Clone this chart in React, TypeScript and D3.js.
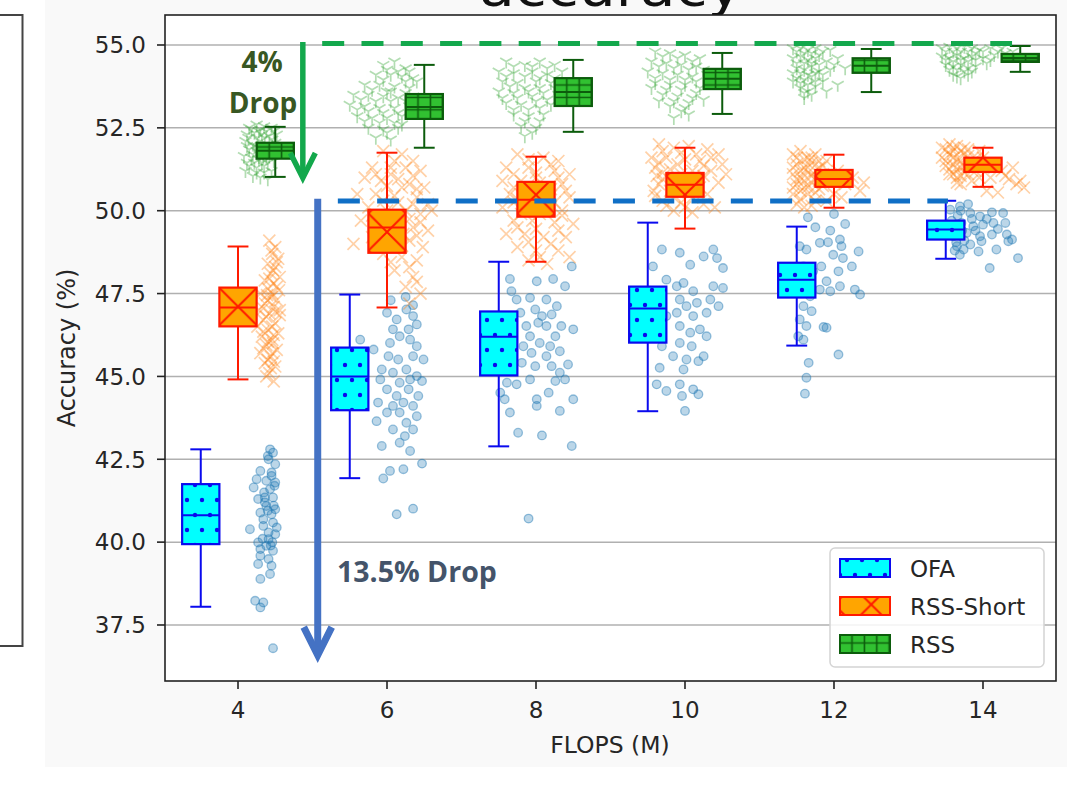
import React from 'react';
import { scaleLinear } from 'd3';

const W = 1091;
const H = 791;

// FLOPs levels (M) and axis ticks
const flops = [4, 6, 8, 10, 12, 14];
const xTicks = [4, 6, 8, 10, 12, 14];
const yTicks = [37.5, 40.0, 42.5, 45.0, 47.5, 50.0, 52.5, 55.0];

// box statistics per FLOPs level
const ofaLow = [38.05, 41.93, 42.89, 43.95, 45.93, 48.55];
const ofaQ1 = [39.94, 43.98, 45.03, 46.02, 47.38, 49.13];
const ofaMed = [40.81, 45.0, 46.2, 47.05, 47.92, 49.43];
const ofaQ3 = [41.75, 45.87, 46.96, 47.71, 48.43, 49.7];
const ofaHigh = [42.8, 47.47, 48.46, 49.64, 49.52, 50.3];

const shortLow = [44.91, 47.08, 48.46, 49.46, 50.09, 50.72];
const shortQ1 = [46.51, 48.73, 49.82, 50.42, 50.72, 51.17];
const shortMed = [47.08, 49.49, 50.33, 50.78, 50.96, 51.39];
const shortQ3 = [47.68, 50.03, 50.87, 51.14, 51.23, 51.6];
const shortHigh = [48.92, 51.75, 51.63, 51.9, 51.69, 51.9];

const rssLow = [51.02, 51.9, 52.38, 52.92, 53.58, 54.19];
const rssQ1 = [51.57, 52.77, 53.16, 53.67, 54.16, 54.49];
const rssMed = [51.81, 53.13, 53.58, 53.98, 54.37, 54.61];
const rssQ3 = [52.05, 53.52, 54.0, 54.28, 54.6, 54.73];
const rssHigh = [52.53, 54.4, 54.55, 54.76, 54.88, 54.97];

// sampled subnets: [flops, accuracy]
const ofaPts = [
  [4.43,42.80],[4.47,42.70],[4.41,42.50],[4.50,42.35],[4.30,42.15],[4.45,42.10],[4.25,41.90],[4.38,41.85],[4.50,41.80],[4.21,41.65],
  [4.43,41.60],[4.47,41.35],[4.27,41.30],[4.38,41.09],[4.50,40.99],[4.30,40.89],[4.45,40.84],[4.47,40.59],[4.16,40.39],[4.34,40.49],
  [4.41,40.29],[4.50,40.24],[4.27,39.99],[4.38,39.89],[4.47,39.74],[4.30,39.59],[4.41,39.49],[4.27,39.34],[4.43,39.04],[4.30,38.89],
  [4.23,38.23],[4.34,38.18],[4.30,38.03],[4.47,36.80],[4.34,40.69],[4.52,40.44],[4.41,40.09],[4.30,39.79],[4.45,39.29],[4.36,41.35],
  [4.40,42.60],[4.45,42.00],[4.35,41.50],[4.48,41.10],[4.40,40.95],[4.46,40.00],[4.33,40.10],[4.44,39.90],[4.36,41.20],[4.49,41.70],
  [6.00,46.92],[6.13,46.72],[6.26,47.02],[6.35,46.82],[6.08,46.42],[6.17,46.21],[6.31,46.11],[6.40,45.91],[6.04,46.01],[5.64,46.11],
  [5.82,45.81],[6.02,45.61],[6.15,45.51],[6.35,45.61],[6.49,45.51],[5.93,45.21],[6.08,45.11],[6.26,45.21],[6.40,45.01],[5.91,44.91],
  [6.17,44.81],[6.31,44.91],[6.47,44.86],[6.00,44.61],[6.13,44.41],[6.29,44.61],[6.42,44.41],[5.88,44.21],[6.08,44.11],[6.22,44.21],
  [6.35,44.11],[6.00,43.91],[6.17,43.91],[6.40,43.80],[5.86,43.65],[6.26,43.60],[6.08,43.40],[6.35,43.40],[6.24,43.20],[6.17,43.00],
  [6.31,42.75],[5.93,42.90],[6.04,42.15],[5.95,41.92],[6.22,42.20],[6.47,42.37],[6.13,40.84],[6.35,41.01],[6.40,46.57],[6.29,46.42],
  [6.05,47.30],[6.25,47.40],[6.35,47.15],
  [7.65,47.94],[7.67,47.57],[8.01,47.87],[8.23,47.94],[8.39,47.72],[7.74,47.32],[7.92,47.37],[8.14,47.32],[8.28,47.12],[7.79,46.92],
  [7.99,47.02],[8.08,46.82],[8.21,46.87],[8.34,46.52],[8.50,46.42],[7.87,46.52],[8.03,46.62],[8.14,46.52],[7.92,46.21],[8.26,46.21],
  [7.83,45.91],[8.05,46.01],[8.19,45.91],[8.32,45.76],[7.94,45.71],[8.14,45.61],[7.81,45.41],[7.99,45.31],[8.21,45.31],[8.43,45.36],
  [8.32,45.11],[7.61,44.81],[7.74,44.76],[7.92,44.91],[8.26,44.86],[8.39,44.91],[7.58,44.31],[8.01,44.31],[8.50,44.31],[8.17,44.51],
  [7.65,43.91],[8.01,44.11],[8.32,43.96],[7.76,43.30],[8.08,43.22],[8.48,42.90],[7.90,40.71],[8.48,48.32],[7.52,44.51],
  [9.57,48.32],[9.69,48.83],[9.93,48.73],[10.07,48.37],[10.25,48.62],[10.43,48.57],[10.51,48.27],[9.75,47.92],[9.89,47.72],[9.98,47.82],
  [10.11,47.57],[10.38,47.72],[10.51,47.67],[9.66,47.32],[9.93,47.32],[10.02,47.12],[10.16,47.22],[10.34,47.32],[10.45,47.12],[9.75,46.82],
  [9.89,46.92],[10.11,46.82],[10.29,46.92],[9.93,46.52],[10.07,46.32],[10.20,46.42],[10.29,46.21],[9.69,45.91],[9.93,46.01],[10.09,45.91],
  [10.25,45.61],[9.84,45.61],[10.02,45.51],[10.18,45.46],[9.66,45.26],[9.98,45.21],[9.62,44.76],[9.75,44.56],[9.93,44.76],[10.11,44.61],
  [10.18,44.46],[9.96,44.41],[10.00,43.96],[10.38,48.83],
  [11.54,48.93],[11.63,48.83],[11.81,49.03],[11.92,49.05],[12.08,49.13],[12.10,48.93],[12.33,48.77],[11.99,48.67],[12.12,48.57],[12.24,48.32],
  [11.59,48.32],[11.72,48.17],[11.83,48.32],[12.06,48.17],[11.90,47.87],[12.08,47.72],[12.28,47.62],[12.35,47.47],[11.54,47.52],[11.68,47.42],
  [11.81,47.62],[11.95,47.57],[11.59,47.12],[11.70,46.97],[11.54,46.72],[11.63,46.52],[11.86,46.49],[11.90,46.47],[11.59,46.11],[12.06,45.66],
  [11.66,45.41],[11.63,44.96],[11.61,44.48],[11.52,46.21],[11.57,47.82],[11.75,49.50],[11.95,49.40],[12.15,49.60],[11.65,49.80],[12.00,49.90],
  [13.56,50.03],[13.69,50.13],[13.83,49.93],[13.96,49.83],[14.12,49.95],[14.27,49.93],[13.71,49.63],[13.87,49.53],[14.00,49.58],[14.14,49.63],
  [14.30,49.63],[13.60,49.23],[13.78,49.33],[13.96,49.23],[14.12,49.28],[14.32,49.28],[14.39,49.13],[13.65,48.93],[13.83,48.98],[13.98,49.08],
  [14.18,48.83],[14.34,49.08],[13.69,48.67],[14.09,48.27],[14.47,48.57],[13.94,48.77],[13.74,48.83],[13.62,49.50],[13.75,49.10],[13.90,49.40],
  [14.05,49.75],[13.66,49.85],[13.80,50.20],[14.20,49.45],[13.58,49.70],[13.72,49.40],[13.64,49.05],[13.85,49.75],[13.70,50.00],[13.62,48.80],
];

const shortPts = [
  [4.42,49.1],[4.50,48.9],[4.46,48.7],[4.54,48.55],[4.40,48.4],[4.50,48.3],[4.44,48.1],[4.56,48.0],[4.36,47.9],[4.48,47.8],
  [4.40,47.65],[4.55,47.6],[4.30,47.5],[4.45,47.4],[4.52,47.3],[4.36,47.2],[4.48,47.1],[4.28,47.0],[4.42,46.9],[4.56,46.85],
  [4.34,46.7],[4.50,46.6],[4.26,46.5],[4.40,46.4],[4.54,46.3],[4.32,46.2],[4.46,46.1],[4.38,45.95],[4.52,45.8],[4.30,45.7],
  [4.44,45.6],[4.36,45.4],[4.50,45.3],[4.42,45.1],[4.48,44.85],[4.56,47.0],[4.47,46.0],[4.39,47.45],
  [4.45,48.8],[4.52,48.45],[4.47,48.2],[4.42,47.95],[4.52,47.7],[4.46,47.5],[4.40,47.3],[4.34,47.05],[4.50,46.95],[4.38,46.8],
  [4.46,46.5],[4.34,46.35],[4.48,46.25],[4.40,46.05],[4.34,45.85],[4.46,45.7],[4.40,45.5],[4.48,45.45],[4.44,45.25],[4.38,45.0],
  [5.95,51.8],[6.20,51.7],[6.35,51.5],[5.80,51.3],[6.05,51.3],[6.45,51.2],[5.70,51.0],[5.92,50.9],[6.15,50.95],[6.30,50.8],
  [6.50,50.7],[5.60,50.5],[5.85,50.5],[6.10,50.45],[6.40,50.4],[6.55,50.2],[5.75,50.1],[6.00,50.0],[6.25,50.0],[6.45,49.9],
  [5.65,49.7],[5.90,49.6],[6.15,49.6],[6.35,49.5],[6.55,49.4],[5.80,49.2],[6.05,49.1],[6.30,49.1],[6.48,48.9],[5.95,48.7],
  [6.20,48.6],[6.40,48.5],[6.10,48.2],[6.35,48.0],[6.25,47.7],[6.45,47.5],[6.30,47.2],[5.55,49.0],[6.60,50.0],[6.22,49.3],
  [6.10,51.5],[6.25,51.3],[5.85,51.1],[6.05,51.1],[6.35,51.05],[6.00,50.75],[6.20,50.7],[6.40,50.65],[5.95,50.3],[6.15,50.25],
  [6.35,50.2],[5.80,49.85],[6.05,49.8],[6.30,49.75],[6.45,49.65],[5.95,49.35],[6.15,49.35],[6.40,49.25],[6.20,48.95],[6.05,48.45],
  [6.30,48.3],[6.40,47.85],
  [7.75,51.7],[8.10,51.6],[8.30,51.5],[7.60,51.3],[7.90,51.3],[8.25,51.2],[8.45,51.1],[7.55,50.9],[7.80,50.9],[8.05,50.85],
  [8.35,50.8],[7.65,50.5],[7.95,50.5],[8.20,50.45],[8.45,50.4],[7.55,50.1],[7.85,50.1],[8.10,50.05],[8.35,50.0],[7.70,49.7],
  [7.95,49.7],[8.25,49.65],[8.50,49.6],[7.60,49.3],[7.85,49.3],[8.10,49.2],[8.40,49.2],[7.75,48.9],[8.00,48.8],[8.30,48.8],
  [7.90,48.5],[8.15,48.4],[8.45,48.6],[8.00,51.0],[7.70,50.25],
  [7.90,51.55],[8.20,51.4],[7.70,51.1],[8.00,51.15],[8.30,51.0],[7.70,50.7],[7.95,50.7],[8.20,50.65],[8.40,50.6],[7.75,50.35],
  [8.00,50.3],[8.25,50.25],[7.80,49.9],[8.05,49.9],[8.35,49.85],[7.75,49.5],[8.00,49.45],[8.30,49.4],[7.90,49.05],[8.20,49.0],[8.05,48.6],
  [9.65,52.0],[9.85,51.9],[10.05,51.95],[10.30,51.85],[10.45,51.7],[9.55,51.6],[9.75,51.6],[10.00,51.55],[10.20,51.5],[10.50,51.4],
  [9.60,51.3],[9.80,51.25],[10.10,51.2],[10.35,51.2],[9.70,50.95],[9.90,50.9],[10.15,50.9],[10.45,50.85],[9.58,50.6],[9.80,50.6],
  [10.05,50.55],[10.30,50.5],[9.70,50.3],[9.95,50.25],[10.25,50.2],[9.85,50.0],[10.10,49.95],[10.40,50.1],[9.62,51.05],[10.55,51.1],
  [9.70,51.8],[9.95,51.75],[10.15,51.7],[10.35,51.6],[9.65,51.45],[9.90,51.4],[10.25,51.35],[9.70,51.15],[9.95,51.1],[10.25,51.05],
  [9.65,50.8],[9.90,50.75],[10.20,50.7],[9.60,50.45],[9.85,50.4],[10.10,50.4],[9.75,50.15],[10.00,50.1],
  [11.45,51.7],[11.55,51.8],[11.65,51.6],[11.75,51.7],[11.50,51.4],[11.60,51.3],[11.70,51.45],[11.80,51.3],[11.45,51.1],[11.55,51.0],
  [11.65,51.15],[11.75,51.0],[11.85,51.1],[11.50,50.8],[11.60,50.7],[11.70,50.85],[11.80,50.65],[11.45,50.5],[11.55,50.35],[11.65,50.5],
  [11.75,50.3],[11.60,50.1],[11.90,51.5],[11.95,50.9],[12.05,51.2],[12.15,50.8],[12.25,51.0],[12.35,50.6],[12.40,50.85],[12.00,50.5],
  [11.90,50.3],[12.10,50.4],
  [11.50,51.6],[11.60,51.55],[11.70,51.6],[11.80,51.5],[11.45,51.3],[11.55,51.2],[11.65,51.3],[11.75,51.2],[11.50,50.95],[11.60,50.9],
  [11.70,51.05],[11.80,50.9],[11.45,50.7],[11.55,50.6],[11.65,50.7],[11.75,50.55],[11.50,50.2],[11.70,50.15],[11.85,51.35],[11.85,50.75],
  [13.45,51.9],[13.55,52.0],[13.65,51.95],[13.75,51.9],[13.45,51.6],[13.55,51.7],[13.65,51.55],[13.80,51.65],[13.50,51.35],[13.60,51.4],
  [13.70,51.3],[13.85,51.45],[13.55,51.1],[13.65,51.0],[13.75,51.15],[13.90,51.2],[13.70,50.8],[13.85,50.9],[14.00,51.6],[14.10,51.0],
  [14.25,51.2],[14.35,50.95],[14.45,50.8],[14.55,50.7],[14.05,50.6],[14.20,50.55],[13.95,51.8],[14.40,51.3],[13.60,51.8],
  [13.50,51.85],[13.60,51.9],[13.70,51.8],[13.80,51.85],[13.50,51.5],[13.60,51.6],[13.70,51.5],[13.75,51.7],[13.55,51.25],[13.65,51.25],
  [13.75,51.35],[13.80,51.1],[13.60,51.1],[13.70,51.05],[13.65,50.85],[13.90,51.55],[13.95,51.0],[14.15,51.3],[14.30,51.05],[14.50,50.9],
];

const rssPts = [
  [4.15,52.5],[4.25,52.6],[4.35,52.55],[4.45,52.5],[4.12,52.3],[4.22,52.35],[4.32,52.3],[4.42,52.25],[4.52,52.3],[4.10,52.1],
  [4.20,52.0],[4.30,52.1],[4.40,52.0],[4.50,52.05],[4.15,51.85],[4.25,51.8],[4.35,51.85],[4.45,51.75],[4.08,51.65],[4.18,51.6],
  [4.28,51.55],[4.38,51.6],[4.48,51.5],[4.15,51.35],[4.25,51.3],[4.35,51.35],[4.45,51.2],[4.20,51.05],[4.30,51.0],[4.40,50.95],
  [4.30,52.45],[4.22,51.95],[4.40,51.45],
  [4.18,52.45],[4.28,52.4],[4.38,52.4],[4.48,52.4],[4.14,52.2],[4.26,52.2],[4.36,52.2],[4.46,52.15],[4.12,51.95],[4.32,51.95],
  [4.42,51.9],[4.20,51.7],[4.30,51.7],[4.42,51.65],[4.12,51.45],[4.22,51.45],[4.32,51.45],[4.25,51.15],[4.35,51.15],[4.10,51.2],
  [4.28,51.9],[4.34,51.6],
  [5.95,54.4],[6.10,54.5],[6.25,54.3],[5.85,54.1],[6.05,54.1],[6.20,54.05],[6.35,54.0],[5.70,53.8],[5.90,53.8],[6.10,53.75],
  [6.30,53.7],[5.55,53.5],[5.75,53.5],[5.95,53.45],[6.15,53.4],[6.35,53.45],[5.50,53.2],[5.70,53.15],[5.90,53.1],[6.10,53.1],
  [6.30,53.15],[5.60,52.85],[5.80,52.8],[6.00,52.8],[6.20,52.85],[5.75,52.5],[5.95,52.45],[6.15,52.5],[5.85,52.2],[6.05,52.15],
  [6.40,53.9],[6.00,53.6],[6.20,52.6],
  [6.00,54.25],[6.15,54.2],[5.95,53.95],[6.25,53.9],[5.80,53.65],[6.05,53.6],[6.25,53.55],[5.65,53.35],[5.85,53.3],[6.05,53.3],
  [6.25,53.3],[5.75,53.0],[5.95,52.95],[6.15,52.95],[5.70,52.7],[5.90,52.65],[6.10,52.65],[6.00,52.35],[5.60,53.05],[6.30,54.2],
  [7.60,54.5],[7.85,54.4],[8.05,54.5],[8.25,54.4],[7.50,54.2],[7.70,54.15],[7.95,54.2],[8.15,54.1],[8.35,54.2],[7.55,53.9],
  [7.75,53.85],[8.00,53.9],[8.20,53.85],[7.50,53.6],[7.70,53.55],[7.90,53.6],[8.10,53.55],[8.30,53.5],[7.60,53.25],[7.80,53.2],
  [8.00,53.3],[8.20,53.2],[7.70,52.9],[7.90,52.85],[8.10,52.9],[7.80,52.55],[8.00,52.5],[7.85,52.25],[7.95,52.35],
  [7.70,54.35],[7.95,54.35],[8.15,54.3],[7.60,54.05],[7.85,54.05],[8.05,54.0],[8.25,54.0],[7.65,53.75],[7.85,53.7],[8.05,53.7],
  [8.25,53.7],[7.55,53.4],[7.75,53.4],[7.95,53.45],[8.15,53.35],[7.70,53.05],[7.90,53.05],[8.05,53.1],[7.85,52.7],[8.05,52.7],
  [9.60,54.8],[9.80,54.75],[10.00,54.7],[10.20,54.6],[9.55,54.5],[9.75,54.45],[9.95,54.4],[10.15,54.35],[9.50,54.2],[9.70,54.15],
  [9.90,54.1],[10.10,54.05],[10.30,54.1],[9.60,53.85],[9.80,53.8],[10.00,53.8],[10.20,53.7],[9.70,53.5],[9.90,53.45],[10.10,53.4],
  [9.80,53.15],[10.00,53.1],[9.85,52.8],[10.05,52.9],[9.65,53.3],[10.25,53.35],
  [9.70,54.65],[9.90,54.6],[10.10,54.5],[9.65,54.35],[9.85,54.3],[10.05,54.25],[10.25,54.25],[9.60,54.0],[9.80,53.95],[10.00,53.95],
  [10.15,53.9],[9.75,53.65],[9.95,53.65],[10.15,53.55],[9.85,53.3],[10.05,53.25],[9.95,53.0],[9.55,53.7],
  [11.45,54.9],[11.55,54.9],[11.65,54.85],[11.75,54.9],[11.85,54.8],[11.95,54.85],[11.45,54.6],[11.55,54.65],[11.65,54.55],[11.75,54.6],
  [11.90,54.5],[12.05,54.6],[11.50,54.3],[11.60,54.25],[11.70,54.35],[11.80,54.2],[11.95,54.25],[11.50,54.0],[11.60,53.95],[11.70,54.05],
  [11.85,53.9],[11.55,53.7],[11.65,53.6],[11.75,53.75],[11.60,53.4],[11.90,53.6],[12.05,53.8],[12.15,54.3],
  [11.50,54.8],[11.60,54.75],[11.70,54.75],[11.80,54.7],[11.50,54.45],[11.60,54.45],[11.70,54.45],[11.80,54.4],[11.55,54.15],[11.65,54.1],
  [11.75,54.15],[11.85,54.1],[11.55,53.85],[11.65,53.8],[11.75,53.9],[11.60,53.55],[11.70,53.5],[11.45,54.15],[11.45,53.9],[12.00,54.4],
  [13.45,54.9],[13.55,54.95],[13.65,54.9],[13.75,54.95],[13.85,54.9],[13.95,54.85],[14.10,54.9],[14.25,54.9],[13.45,54.65],[13.55,54.6],
  [13.65,54.7],[13.75,54.6],[13.85,54.65],[14.00,54.6],[14.15,54.7],[13.50,54.4],[13.60,54.35],[13.70,54.4],[13.80,54.3],[13.90,54.35],
  [14.05,54.45],[13.60,54.1],[13.70,54.0],[13.80,54.1],[14.30,54.75],
  [13.50,54.8],[13.60,54.8],[13.70,54.8],[13.80,54.8],[13.90,54.75],[14.00,54.8],[14.20,54.8],[13.50,54.55],[13.60,54.5],[13.70,54.55],
  [13.80,54.5],[13.90,54.55],[13.55,54.25],[13.65,54.25],[13.75,54.2],[13.85,54.2],[13.65,54.05],[14.10,54.55],[14.40,54.8],
];

const legendNames = ['OFA', 'RSS-Short', 'RSS'];

// plot box in page pixels
const left = 165, right = 1056, top = 15, bottom = 681;

const x = scaleLinear().domain([3.02, 14.98]).range([left, right]);
const y = scaleLinear().domain([35.81, 55.905]).range([bottom, top]);

const BOX_W = 0.5;
const CAP_W = 0.28;

function BoxPlot({ pos, lo, q1, med, q3, hi, fill, edge, hatch }) {
  const x0 = x(pos - BOX_W / 2);
  const x1 = x(pos + BOX_W / 2);
  const cx = x(pos);
  const c0 = x(pos - CAP_W / 2);
  const c1 = x(pos + CAP_W / 2);
  const yt = y(q3), yb = y(q1);
  return (
    <g>
      <line x1={cx} x2={cx} y1={y(hi)} y2={yt} stroke={edge} strokeWidth={2} />
      <line x1={cx} x2={cx} y1={yb} y2={y(lo)} stroke={edge} strokeWidth={2} />
      <line x1={c0} x2={c1} y1={y(hi)} y2={y(hi)} stroke={edge} strokeWidth={2} />
      <line x1={c0} x2={c1} y1={y(lo)} y2={y(lo)} stroke={edge} strokeWidth={2} />
      <rect x={x0} y={yt} width={x1 - x0} height={yb - yt} fill={fill} />
      <rect x={x0} y={yt} width={x1 - x0} height={yb - yt} fill={`url(#${hatch})`} />
      <rect x={x0} y={yt} width={x1 - x0} height={yb - yt} fill="none" stroke={edge} strokeWidth={2.2} />
      <line x1={x0} x2={x1} y1={y(med)} y2={y(med)} stroke={edge} strokeWidth={2} />
    </g>
  );
}

export default function App() {
  const series = [
    { name: 'OFA', off: -0.5, lo: ofaLow, q1: ofaQ1, med: ofaMed, q3: ofaQ3, hi: ofaHigh, fill: '#00ffff', edge: '#0a0aee', hatch: 'dots' },
    { name: 'RSS-Short', off: 0, lo: shortLow, q1: shortQ1, med: shortMed, q3: shortQ3, hi: shortHigh, fill: '#ffa500', edge: '#ff1a00', hatch: 'cross' },
    { name: 'RSS', off: 0.5, lo: rssLow, q1: rssQ1, med: rssMed, q3: rssQ3, hi: rssHigh, fill: '#31c131', edge: '#0c5c0c', hatch: 'grid' },
  ];

  const font = '"DejaVu Sans", sans-serif';
  const boldFont = '"Open Sans", "DejaVu Sans", sans-serif';

  // annotation anchors in data units
  const greenY = 55.045, greenX0 = 5.13, greenX1 = 14.39;
  const blueY = 50.29, blueX0 = 5.34, blueX1 = 13.53;
  const gArrowX = 4.87, gArrowTop = 55.09, gArrowTip = 50.99;
  const bArrowX = 5.07, bArrowTop = 50.36, bArrowTip = 36.59;

  return (
    <svg width={W} height={H} style={{ position: 'absolute', left: 0, top: 0 }}>
      <defs>
        <pattern id="dots" patternUnits="userSpaceOnUse" width={15} height={30}>
          <circle cx={7} cy={20} r={2.2} fill="#0a0aee" />
          <circle cx={0} cy={5} r={2.2} fill="#0a0aee" />
          <circle cx={15} cy={5} r={2.2} fill="#0a0aee" />
        </pattern>
        <pattern id="cross" patternUnits="userSpaceOnUse" x={219.4} y={213.4} width={37.25} height={37.25}>
          <path d="M-3,-3L40.25,40.25M-3,40.25L40.25,-3" stroke="#ff1a00" strokeWidth={2} />
        </pattern>
        <pattern id="grid" patternUnits="userSpaceOnUse" x={2.6} y={4.4} width={12.4} height={12.4}>
          <path d="M6.2,0V12.4M0,6.2H12.4" stroke="#0c5c0c" strokeWidth={1.6} />
        </pattern>
      </defs>

      {/* figure background */}
      <rect x={0} y={0} width={W} height={H} fill="#ffffff" />
      <rect x={45} y={0} width={1022} height={767} fill="#f9f9f9" />
      {/* neighbouring panel edge */}
      <path d="M0,15H22.5V646H0" fill="none" stroke="#444" strokeWidth={2} />

      {/* title, cut at the top as in the source figure */}
      <text x={(left + right) / 2} y={6} textAnchor="middle" fontFamily={font} fontSize={52}
        textLength={263} lengthAdjust="spacingAndGlyphs" fill="#111">accuracy</text>

      <rect x={left} y={top} width={right - left} height={bottom - top} fill="#ffffff" />

      {/* grid */}
      {yTicks.map(t => (
        <line key={t} x1={left} x2={right} y1={y(t)} y2={y(t)} stroke="#b0b0b0" strokeWidth={1.5} />
      ))}

      {/* sampled points */}
      <g>
        {ofaPts.map((p, i) => (
          <circle key={i} cx={x(p[0])} cy={y(p[1])} r={4.3} fill="#1f77b4" fillOpacity={0.3}
            stroke="#1f77b4" strokeOpacity={0.45} strokeWidth={1.3} />
        ))}
      </g>
      <g stroke="#ff7f0e" strokeOpacity={0.36} strokeWidth={1.7} fill="none">
        {shortPts.map((p, i) => (
          <path key={i} transform={`translate(${x(p[0])},${y(p[1])})`} d="M-6,-6L6,6M-6,6L6,-6" />
        ))}
      </g>
      <g stroke="#2ca02c" strokeOpacity={0.36} strokeWidth={1.7} fill="none">
        {rssPts.map((p, i) => (
          <path key={i} transform={`translate(${x(p[0])},${y(p[1])})`} d="M0,0V7M0,0L-6,-3.5M0,0L6,-3.5" />
        ))}
      </g>

      {/* boxes */}
      {series.map(s => (
        <g key={s.name}>
          {flops.map((f, i) => (
            <BoxPlot key={f} pos={f + s.off} lo={s.lo[i]} q1={s.q1[i]} med={s.med[i]} q3={s.q3[i]} hi={s.hi[i]}
              fill={s.fill} edge={s.edge} hatch={s.hatch} />
          ))}
        </g>
      ))}

      {/* axes frame */}
      <rect x={left} y={top} width={right - left} height={bottom - top} fill="none" stroke="#222" strokeWidth={1.6} />

      {/* y axis */}
      {yTicks.map(t => (
        <g key={t}>
          <line x1={left - 8} x2={left} y1={y(t)} y2={y(t)} stroke="#222" strokeWidth={1.6} />
          <text x={left - 19} y={y(t)} dy="0.36em" textAnchor="end" fontFamily={font} fontSize={23} fill="#262626">
            {t.toFixed(1)}
          </text>
        </g>
      ))}
      {/* x axis */}
      {xTicks.map(t => (
        <g key={t}>
          <line x1={x(t)} x2={x(t)} y1={bottom} y2={bottom + 8} stroke="#222" strokeWidth={1.6} />
          <text x={x(t)} y={718} textAnchor="middle" fontFamily={font} fontSize={23} fill="#262626">{t}</text>
        </g>
      ))}
      <text x={610} y={753} textAnchor="middle" fontFamily={font} fontSize={23.5} fill="#262626">FLOPS (M)</text>
      <text transform="translate(67,348) rotate(-90)" textAnchor="middle" dy="0.35em" fontFamily={font} fontSize={24} fill="#262626">
        Accuracy (%)
      </text>

      {/* drop annotations */}
      <line x1={x(greenX0)} x2={x(greenX1)} y1={y(greenY)} y2={y(greenY)} stroke="#13a84c" strokeWidth={5} strokeDasharray="22 17.3" />
      <line x1={x(blueX0)} x2={x(blueX1)} y1={y(blueY)} y2={y(blueY)} stroke="#0f6fc6" strokeWidth={5} strokeDasharray="22 17.3" />

      <line x1={x(gArrowX)} x2={x(gArrowX)} y1={y(gArrowTop)} y2={y(gArrowTip) - 3} stroke="#13a84c" strokeWidth={5.5} />
      <path d={`M${x(gArrowX) - 12.5},${y(gArrowTip) - 25}L${x(gArrowX)},${y(gArrowTip)}L${x(gArrowX) + 12.5},${y(gArrowTip) - 25}`}
        fill="none" stroke="#13a84c" strokeWidth={5.5} />

      <line x1={x(bArrowX)} x2={x(bArrowX)} y1={y(bArrowTop)} y2={y(bArrowTip) - 3} stroke="#4472c4" strokeWidth={7} />
      <path d={`M${x(bArrowX) - 14},${y(bArrowTip) - 28}L${x(bArrowX)},${y(bArrowTip)}L${x(bArrowX) + 14},${y(bArrowTip) - 28}`}
        fill="none" stroke="#4472c4" strokeWidth={7} />

      <text x={262} y={72} textAnchor="middle" fontFamily={boldFont} fontWeight="bold" fontSize={28} fill="#385723">4%</text>
      <text x={263} y={113} textAnchor="middle" fontFamily={boldFont} fontWeight="bold" fontSize={28} fill="#385723">Drop</text>
      <text x={337} y={582} fontFamily={boldFont} fontWeight="bold" fontSize={28.5} fill="#44546a">13.5% Drop</text>

      {/* legend */}
      <rect x={830} y={548} width={214} height={119} rx={5} fill="#ffffff" fillOpacity={0.85} stroke="#d4d4d4" strokeWidth={1.5} />
      {series.map((s, i) => (
        <g key={s.name}>
          <rect x={840} y={559 + i * 38} width={50} height={18} fill={s.fill} />
          <rect x={840} y={559 + i * 38} width={50} height={18} fill={`url(#${s.hatch})`} />
          <rect x={840} y={559 + i * 38} width={50} height={18} fill="none" stroke={s.edge} strokeWidth={2} />
          <text x={910} y={577 + i * 38} fontFamily={font} fontSize={23} fill="#262626">{legendNames[i]}</text>
        </g>
      ))}
    </svg>
  );
}
